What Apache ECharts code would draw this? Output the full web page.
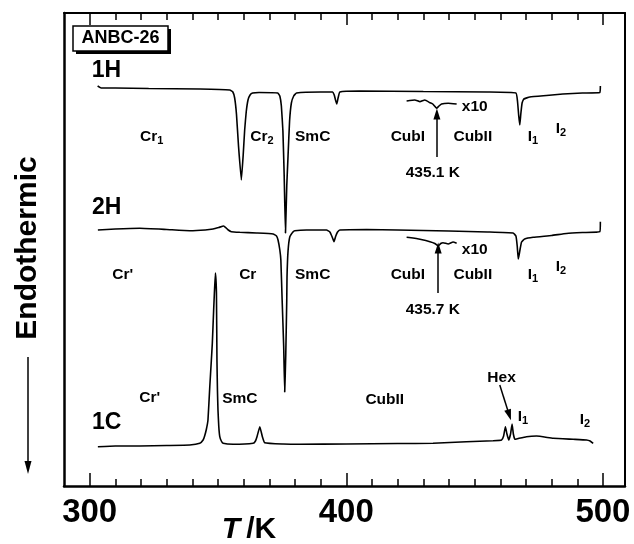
<!DOCTYPE html>
<html>
<head>
<meta charset="utf-8">
<title>ANBC-26 DSC</title>
<script src="https://cdn.jsdelivr.net/npm/echarts@6/dist/echarts.min.js"></script>
<style>
  html, body { margin: 0; padding: 0; background: #fff; }
  #chart { width: 634px; height: 544px; }
</style>
</head>
<body>
<div id="chart"></div>
<script>
// DSC traces of ANBC-26: temperature (K) vs. heat flow (arbitrary units, traces stacked)
const heat1H = [
  [303.1,400],[304.5,398],[310,398],[323,397.5],[343,397],[354.6,396],[355.8,394],[356.5,388],
  [357.2,372],[358.0,340],[359.1,306],[359.8,330],[360.4,356],[361.0,374],[361.7,386],[362.5,391],
  [363.5,393],[366,393.5],[373.3,393],[374.1,390],[374.7,380],[375.3,355],[375.8,310],[376.3,253],
  [376.8,300],[377.3,330],[377.9,365],[378.6,383],[379.5,390],[380.6,393],[390,394],[394.7,394],
  [395.3,391],[395.8,386],[396.3,382],[396.8,388],[397.5,394],[405,395],[430,394.5],[455,394],
  [466.1,393],[466.7,385],[467.2,370],[467.6,361],[468.0,372],[468.5,383],[469.2,387],[471.5,389],
  [478,390.5],[484.4,392],[492,393],[498.8,393.5],[499.0,400]
];
const heat2H = [
  [303.2,256],[310,257],[319.5,257.7],[330,256.5],[339,255.3],[345,256],[348.1,257],[350.3,258.5],
  [352.2,260],[353.2,258],[354.0,256],[355.2,254.3],[358.5,253.7],[365,253],[371.5,252],[372.8,250],
  [373.4,246],[374.1,236],[374.5,226],[375.0,186],[375.6,140],[376.0,94],[376.4,130],[376.8,186],
  [376.9,209],[377.3,235],[378.0,249.3],[379.3,254.3],[379.9,255.3],[384.5,256],[392.3,256],
  [393.6,254],[394.5,249],[395.2,244.3],[395.9,250],[396.6,254],[397.5,256],[407.9,256.5],[420,256],
  [440,255],[455,254],[465,253],[466.1,250],[466.6,240],[467.0,227],[467.4,232],[467.8,238],
  [468.3,244],[469.5,247],[472.8,248.7],[480,250.5],[485.8,252.5],[492,253.5],[498.8,254.3],[499.0,264.3]
];
const heat1C = [
  [303.2,39.3],[310,40],[319.5,40],[330,40.5],[339,41],[342.9,42.7],[344.2,46],[344.8,50],[345.5,57],
  [346.1,66],[346.8,99],[347.4,125],[347.8,143],[348.3,175],[348.6,193],[349.0,213],[349.4,193],
  [349.6,126],[349.8,95],[350.0,76],[350.3,60],[350.7,49.3],[351.3,45],[352.0,42.7],[355.9,41.7],
  [363.7,42.7],[364.6,45],[365.2,49.3],[366.3,59.3],[367.3,49.3],[368.2,43.3],[375.4,42],[381.9,41.7],
  [400,42],[420,42.5],[433.8,42.7],[446.8,44.3],[457.2,45.3],[460.5,46],[461.3,50],[462.0,59.3],
  [462.6,52],[463.3,46],[464.0,52],[464.6,62],[465.1,52],[465.7,46.7],[467,47.5],[470.2,49.3],
  [474.1,50],[480.6,47.7],[488.4,46.7],[493.6,46],[495,45],[496.2,42.7]
];
// CubI -> CubII region magnified ten times
const zoom1H = [
  [423.5,385],[426.7,386],[428.7,384.3],[430.6,386],[432.6,383.3],[433.7,382],[435.2,377.7],
  [436.1,380],[437.1,382],[439.7,382.7],[443.0,382]
];
const zoom2H = [
  [423.5,248.7],[426,248],[428.7,246.7],[432.6,244.3],[434.5,242.5],[435.8,240],[436.8,242.5],
  [437.7,243.3],[439.7,242],[441.6,244],[443.0,242.7]
];

const majorTicks = [300, 400, 500];
const minorTicks = [310, 320, 330, 340, 350, 360, 370, 380, 390, 410, 420, 430, 440, 450, 460, 470, 480, 490];

// phase / trace annotations: [T, heat flow, text]
const phaseLabels = [
  [324.2, 349, 'Cr{s|1}'], [367.1, 349, 'Cr{s|2}'], [386.9, 349, 'SmC'], [424.0, 349, 'CubI'],
  [449.3, 349, 'CubII'], [472.7, 349, 'I{s|1}'], [483.6, 357, 'I{s|2}'], [433.7, 313, '435.1 K'],
  [312.9, 211, "Cr'"], [361.6, 211, 'Cr'], [386.9, 211, 'SmC'], [424.0, 211, 'CubI'],
  [449.3, 211, 'CubII'], [472.7, 211, 'I{s|1}'], [483.6, 219, 'I{s|2}'], [433.7, 176, '435.7 K'],
  [323.4, 88, "Cr'"], [358.5, 87, 'SmC'], [415.0, 86, 'CubII'], [460.5, 108, 'Hex'],
  [468.8, 69, 'I{s|1}'], [493.0, 66, 'I{s|2}']
];
const zoomLabels = [[445.0, 379, 'x10'], [445.0, 236, 'x10']];
const traceLabels = [[306.5, 415.5, '1H'], [306.6, 278, '2H'], [306.6, 63, '1C']];
const tickLabelValues = [300, 400, 500];

const chart = echarts.init(document.getElementById('chart'), null, { renderer: 'canvas' });
const FONT = '"Liberation Sans", Arial, Helvetica, sans-serif';
const INK = '#000';

const traceStyle = { color: INK, width: 1.6 };

function trace(name, data, extra) {
  return Object.assign({
    name: name,
    type: 'line',
    data: data,
    showSymbol: false,
    symbol: 'none',
    smooth: 0.12,
    lineStyle: traceStyle,
    itemStyle: { color: INK },
    silent: true,
    z: 3
  }, extra || {});
}

function arrowLine(from, to) {
  return {
    silent: true,
    symbol: ['none', 'triangle'],
    symbolSize: [7, 11],
    lineStyle: { color: INK, width: 1.5, type: 'solid' },
    label: { show: false },
    data: [[{ coord: from }, { coord: to }]]
  };
}

function textSeries(list, fontSize, extraLabel) {
  return {
    type: 'scatter',
    symbolSize: 0,
    silent: true,
    z: 5,
    itemStyle: { opacity: 1, color: INK },
    data: list.map(d => ({ value: [d[0], d[1]], name: d[2] })),
    label: Object.assign({
      show: true,
      position: 'inside',
      formatter: p => p.name,
      color: INK,
      opacity: 1,
      fontFamily: FONT,
      fontWeight: 'bold',
      fontSize: fontSize,
      rich: {
        s: { fontSize: 11, fontWeight: 'bold', fontFamily: FONT, color: INK, padding: [7, 0, 0, 0] }
      }
    }, extraLabel || {})
  };
}

const xBase = { type: 'value', min: 290, max: 508.6, splitLine: { show: false } };

chart.setOption({
  animation: false,
  backgroundColor: '#fff',
  grid: { left: 64, top: 13, width: 561, height: 473, containLabel: false },
  xAxis: [
    Object.assign({}, xBase, {
      position: 'bottom',
      axisLine: { show: true, lineStyle: { color: INK, width: 2.5 } },
      axisTick: { show: true, inside: true, length: 7, customValues: minorTicks, lineStyle: { color: INK, width: 1.5 } },
      axisLabel: {
        show: true, customValues: tickLabelValues, margin: 10,
        color: INK, fontFamily: FONT, fontWeight: 'bold', fontSize: 33
      }
    }),
    Object.assign({}, xBase, {
      position: 'bottom',
      axisLine: { show: false },
      axisTick: { show: true, inside: true, length: 13, customValues: majorTicks, lineStyle: { color: INK, width: 1.5 } },
      axisLabel: { show: false }
    }),
    Object.assign({}, xBase, {
      position: 'top',
      axisLine: { show: true, lineStyle: { color: INK, width: 2 } },
      axisTick: { show: true, inside: true, length: 7, customValues: minorTicks, lineStyle: { color: INK, width: 1.5 } },
      axisLabel: { show: false }
    }),
    Object.assign({}, xBase, {
      position: 'top',
      axisLine: { show: false },
      axisTick: { show: true, inside: true, length: 12, customValues: majorTicks, lineStyle: { color: INK, width: 1.5 } },
      axisLabel: { show: false }
    })
  ],
  yAxis: [
    {
      type: 'value', min: 0, max: 473, position: 'left',
      axisLine: { show: true, lineStyle: { color: INK, width: 2.5 } },
      axisTick: { show: false }, axisLabel: { show: false }, splitLine: { show: false }
    },
    {
      type: 'value', min: 0, max: 473, position: 'right',
      axisLine: { show: true, lineStyle: { color: INK, width: 2 } },
      axisTick: { show: false }, axisLabel: { show: false }, splitLine: { show: false }
    }
  ],
  series: [
    trace('1H', heat1H),
    trace('2H', heat2H),
    trace('1C', heat1C, { markLine: arrowLine([459.8, 101], [463.5, 71]) }),
    trace('1H x10', zoom1H, { markLine: arrowLine([435.3, 329], [435.3, 372]) }),
    trace('2H x10', zoom2H, { markLine: arrowLine([435.8, 193], [435.8, 238]) }),
    textSeries(phaseLabels, 15.5),
    textSeries(zoomLabels, 15.5, { position: 'right', distance: 0 }),
    textSeries(traceLabels, 23)
  ],
  graphic: [
    // sample tag with drop shadow
    { type: 'rect', shape: { x: 76, y: 29, width: 95, height: 25 }, style: { fill: INK }, z: 10 },
    { type: 'rect', shape: { x: 73, y: 26, width: 95, height: 25 }, style: { fill: '#fff', stroke: INK, lineWidth: 1.5 }, z: 11 },
    {
      type: 'text', x: 120.5, y: 38.5, z: 12,
      style: { text: 'ANBC-26', fill: INK, font: 'bold 18px ' + FONT, align: 'center', verticalAlign: 'middle' }
    },
    // ordinate caption with downward arrow
    {
      type: 'text', x: 28, y: 248, rotation: Math.PI / 2, z: 10,
      style: { text: 'Endothermic', fill: INK, font: 'bold 30px ' + FONT, align: 'center', verticalAlign: 'middle' }
    },
    { type: 'line', shape: { x1: 28, y1: 357, x2: 28, y2: 463 }, style: { stroke: INK, lineWidth: 1.5 }, z: 10 },
    { type: 'polygon', shape: { points: [[24.5, 461], [31.5, 461], [28, 474]] }, style: { fill: INK }, z: 10 },
    // abscissa caption
    {
      type: 'text', x: 249, y: 530, z: 10,
      style: {
        text: '{i|T}{r|/K}',
        align: 'center', verticalAlign: 'middle',
        rich: {
          i: { font: 'italic bold 30px ' + FONT, fill: INK, padding: [0, 6, 0, 0] },
          r: { font: 'bold 30px ' + FONT, fill: INK }
        }
      }
    }
  ]
});
</script>
</body>
</html>
